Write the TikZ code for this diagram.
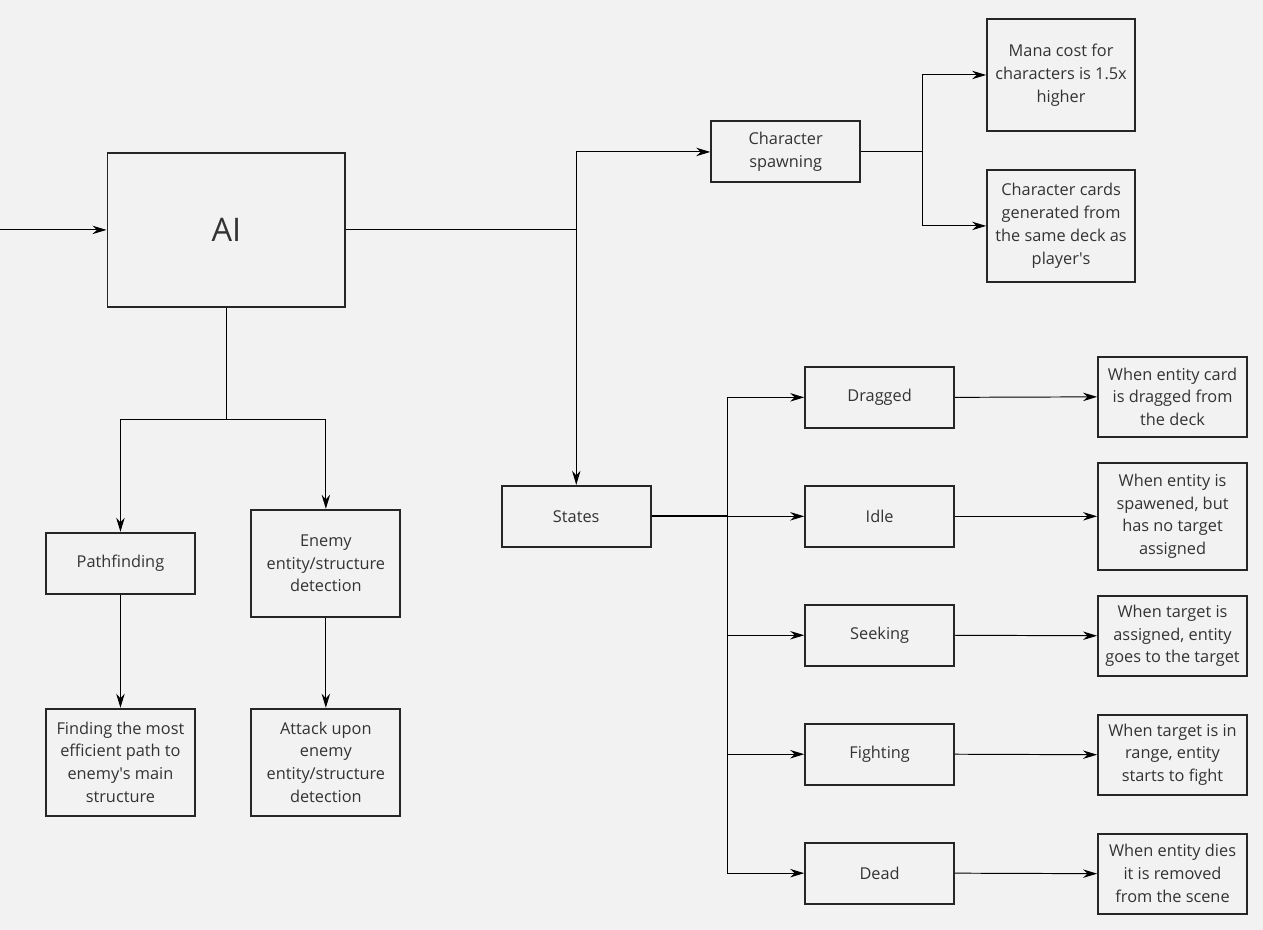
\documentclass[tikz,border=0pt]{standalone}
\usepackage{fontspec}
\setmainfont{Open Sans}
\usepackage{tikz}
\usetikzlibrary{positioning}
\usetikzlibrary{arrows.meta}
\definecolor{bgcol}{HTML}{F2F2F2}
\definecolor{txtcol}{HTML}{333333}

\begin{document}
\begin{tikzpicture}[x=0.02cm, y=-0.02cm,
	box/.style={draw=black!85, line width=1.1pt, text=txtcol, align=center, font=\fontsize{9.3}{13}\selectfont, inner sep=2pt, minimum width=2.98cm},
	small/.style={box, minimum height=1.22cm},
	tall/.style={box, minimum height=2.14cm},
	desc/.style={box, minimum height=1.6cm},
	arr/.style={black, line width=0.55pt, -{Stealth[length=8pt, width=4.8pt]}},
	wire/.style={black, line width=0.55pt}]
		\fill[bgcol] (0,0) rectangle (1263,930);
		% main box
		\node[box, minimum width=4.76cm, minimum height=3.08cm, font=\fontsize{18.5}{22}\selectfont] (ai) at (226,230) {AI};
		\coordinate (input) at (0,230);
		\draw[arr] (input) -- (ai.west);
		% spawning branch
		\node[small] (spawn) at (785.5,152) {Character\\spawning};
		\node[box, minimum width=2.96cm, minimum height=2.24cm] (mana) at (1061,75) {Mana cost for\\characters is 1.5x\\higher};
		\node[box, minimum width=2.96cm, minimum height=2.24cm] (cards) at (1061,226) {Character cards\\generated from\\the same deck as\\player\textquotesingle s};
		\coordinate (jr) at (576,230);
		\coordinate (js) at (922,152);
		\draw[wire] (ai.east) -- (jr);
		\draw[arr] (jr) |- (spawn.west);
		\draw[wire] (spawn.east) -- (js);
		\draw[arr] (js) |- (mana.west);
		\draw[arr] (js) |- (cards.west);
		% lower left branch
		\node[small] (path) at (120,563.5) {Pathfinding};
		\node[tall] (enemy) at (325.5,563.5) {Enemy\\entity/structure\\detection};
		\node[tall] (find) at (120,762.5) {Finding the most\\efficient path to\\enemy\textquotesingle s main\\structure};
		\node[tall] (attack) at (325.5,762.5) {Attack upon\\enemy\\entity/structure\\detection};
		\coordinate (jb) at (226,420);
		\draw[wire] (ai.south) -- (jb);
		\draw[arr] (jb) -| (path.north);
		\draw[arr] (jb) -| (enemy.north);
		\draw[arr] (path.south) -- (find.north);
		\draw[arr] (enemy.south) -- (attack.north);
		% states
		\node[small] (states) at (576,516.5) {States};
		\draw[arr] (jr) -- (states.north);
		\node[small] (dragged) at (879.5,397.5) {Dragged};
		\node[small] (idle) at (879.5,516.5) {Idle};
		\node[small] (seeking) at (879.5,635.5) {Seeking};
		\node[small] (fighting) at (879.5,754.5) {Fighting};
		\node[small] (dead) at (879.5,873.5) {Dead};
		\node[desc] (ddragged) at (1172.5,397) {When entity card\\is dragged from\\the deck};
		\node[tall] (didle) at (1172.5,516.5) {When entity is\\spawened, but\\has no target\\assigned};
		\node[desc] (dseeking) at (1172.5,636) {When target is\\assigned, entity\\goes to the target};
		\node[desc] (dfighting) at (1172.5,755) {When target is in\\range, entity\\starts to fight};
		\node[desc] (ddead) at (1172.5,874) {When entity dies\\it is removed\\from the scene};
		\coordinate (jst) at (727,516.5);
		\draw[wire, line width=1.1pt] (states.east) -- (jst);
		\foreach \s in {dragged,idle,seeking,fighting,dead}
			\draw[arr] (jst) |- (\s.west);
		\foreach \s in {dragged,idle,seeking,fighting,dead}
			\draw[arr] (\s.east) -- (d\s.west);
	\end{tikzpicture}
\end{document}
